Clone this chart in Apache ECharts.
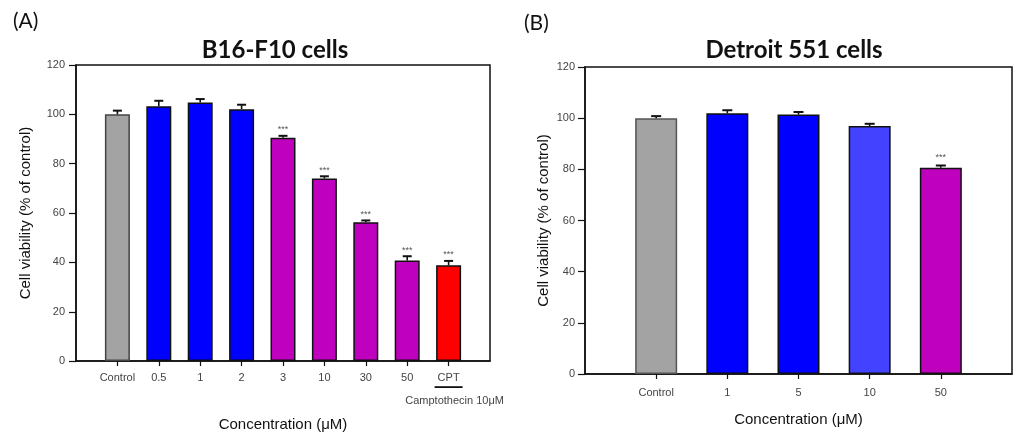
<!DOCTYPE html>
<html>
<head>
<meta charset="utf-8">
<script src="https://cdn.jsdelivr.net/npm/echarts@6/dist/echarts.min.js"></script>
<style>
html,body{margin:0;padding:0;background:#fff;}
#c{width:1024px;height:437px;}
</style>
</head>
<body>
<div id="c"></div>
<script>
// ---- data ----
const catsA = ['Control', '0.5', '1', '2', '3', '10', '30', '50', 'CPT'];
const valsA = [100.0, 103.3, 104.8, 102.1, 90.5, 74.0, 56.3, 40.8, 38.8];
const errsA = [1.5, 2.2, 1.4, 1.8, 0.8, 0.9, 0.7, 1.7, 1.8];
const sigA  = ['', '', '', '', '***', '***', '***', '***', '***'];

const catsB = ['Control', '1', '5', '10', '50'];
const valsB = [100.0, 101.9, 101.4, 96.9, 80.6];
const errsB = [0.8, 1.2, 1.0, 0.9, 0.9];
const sigB  = ['', '', '', '', '***'];

const yMin = 0, yMax = 120, yStep = 20;

// ---- styles (kept apart from data) ----
const GRAY = '#a3a3a3', BLUE = '#0000ff', LBLUE = '#4343ff', PURP = '#bf00bf', RED = '#ff0000';
const colorsA = [GRAY, BLUE, BLUE, BLUE, PURP, PURP, PURP, PURP, RED];
const colorsB = [GRAY, BLUE, BLUE, LBLUE, PURP];
const borderA = ['#444', '#111', '#111', '#111', '#111', '#111', '#111', '#111', '#111'];
const borderB = ['#555', '#111', '#111', '#111', '#111'];

const labelFont = 'Liberation Sans, Arial, sans-serif';

function padCats(c) { return [''].concat(c, ['']); }

function barData(vals, colors, borders) {
  return ['-'].concat(vals.map((v, i) => ({
    value: v,
    itemStyle: { color: colors[i], borderColor: borders[i], borderWidth: 1.5 }
  })), ['-']);
}

function errData(vals, errs) {
  return vals.map((v, i) => [i + 1, v, errs[i]]);
}

function errRender(sig, capHalf, starGap) {
  return function (params, api) {
    const x = api.value(0), v = api.value(1), e = api.value(2);
    const p0 = api.coord([x, v]);
    const p1 = api.coord([x, v + e]);
    const children = [
      { type: 'line', shape: { x1: p0[0], y1: p0[1], x2: p1[0], y2: p1[1] }, style: { stroke: '#111', lineWidth: 1.6 } },
      { type: 'line', shape: { x1: p1[0] - capHalf, y1: p1[1], x2: p1[0] + capHalf, y2: p1[1] }, style: { stroke: '#111', lineWidth: 2 } }
    ];
    const s = sig[params.dataIndex];
    if (s) {
      children.push({
        type: 'text', x: p1[0], y: p1[1] - starGap,
        style: { text: s, align: 'center', verticalAlign: 'middle', fill: '#555', font: '9px ' + labelFont }
      });
    }
    return { type: 'group', children: children };
  };
}

function yAxis(gridIndex, nameGap, labelMargin) {
  return {
    type: 'value', gridIndex: gridIndex, min: yMin, max: yMax, interval: yStep,
    name: 'Cell viability (% of control)', nameLocation: 'middle', nameGap: nameGap,
    nameTextStyle: { fontFamily: labelFont, fontSize: 15, color: '#111' },
    axisLine: { show: true, lineStyle: { color: '#111', width: 1.5 } },
    axisTick: { show: true, length: 7, lineStyle: { color: '#111', width: 1.2 } },
    axisLabel: { fontFamily: labelFont, fontSize: 11, color: '#444', margin: labelMargin },
    splitLine: { show: false }
  };
}

function xAxis(gridIndex, cats, nameGap, labelMargin, rich) {
  const ax = {
    type: 'category', gridIndex: gridIndex, data: padCats(cats), boundaryGap: false,
    name: 'Concentration (\u03bcM)', nameLocation: 'middle', nameGap: nameGap,
    nameTextStyle: { fontFamily: labelFont, fontSize: 15, color: '#111', verticalAlign: 'top' },
    axisLine: { show: true, lineStyle: { color: '#111', width: 1.5 } },
    axisTick: { show: true, length: 5, interval: function (i, v) { return v !== ''; }, lineStyle: { color: '#111', width: 1.2 } },
    axisLabel: { interval: 0, fontFamily: labelFont, fontSize: 11, color: '#444', margin: labelMargin, lineHeight: 13 },
    splitLine: { show: false }
  };
  if (rich) {
    ax.axisLabel.formatter = function (v) {
      if (v === 'CPT') return '{c|CPT}\n{u| }\n{s|Camptothecin 10\u03bcM}';
      return v;
    };
    ax.axisLabel.rich = {
      c: { fontFamily: labelFont, fontSize: 11, color: '#444', lineHeight: 13 },
      u: { width: 28, height: 1.8, backgroundColor: '#111', lineHeight: 6, fontSize: 2 },
      s: { fontFamily: labelFont, fontSize: 11, color: '#444', lineHeight: 22, padding: [0, 0, 0, 12] }
    };
  }
  return ax;
}

const chart = echarts.init(document.getElementById('c'), null, { renderer: 'canvas' });
chart.setOption({
  backgroundColor: '#fff',
  animation: false,
  title: [
    { text: '(A)', left: 8, top: 6, textStyle: { fontFamily: 'Lato, sans-serif', fontWeight: 'normal', fontSize: 21, color: '#111' } },
    { text: '(B)', left: 519, top: 8, textStyle: { fontFamily: 'Lato, sans-serif', fontWeight: 'normal', fontSize: 21, color: '#111' } },
    { text: 'B16-F10 cells', left: 270, textAlign: 'center', top: 33, textStyle: { fontFamily: 'Lato, sans-serif', fontWeight: 'bold', fontSize: 24, color: '#111' } },
    { text: 'Detroit 551 cells', left: 789, textAlign: 'center', top: 33, textStyle: { fontFamily: 'Lato, sans-serif', fontWeight: 'bold', fontSize: 24, color: '#111' } }
  ],
  grid: [
    { left: 76, top: 65, right: 1024 - 490, bottom: 437 - 363, show: true, borderColor: '#111', borderWidth: 1.5, backgroundColor: 'transparent' },
    { left: 585, top: 67, right: 1024 - 1012, bottom: 437 - 374, show: true, borderColor: '#111', borderWidth: 1.5, backgroundColor: 'transparent' }
  ],
  xAxis: [
    xAxis(0, catsA, 51, 10, true),
    xAxis(1, catsB, 38, 12, false)
  ],
  yAxis: [
    yAxis(0, 43, 11),
    yAxis(1, 34, 10)
  ],
  series: [
    { type: 'bar', xAxisIndex: 0, yAxisIndex: 0, barWidth: 25, data: barData(valsA, colorsA, borderA), z: 2 },
    { type: 'custom', xAxisIndex: 0, yAxisIndex: 0, renderItem: errRender(sigA, 4.5, 6), data: errData(valsA, errsA), encode: { x: 0, y: 1 }, z: 3 },
    { type: 'bar', xAxisIndex: 1, yAxisIndex: 1, barWidth: 42, data: barData(valsB, colorsB, borderB), z: 2 },
    { type: 'custom', xAxisIndex: 1, yAxisIndex: 1, renderItem: errRender(sigB, 5, 8), data: errData(valsB, errsB), encode: { x: 0, y: 1 }, z: 3 }
  ]
});
</script>
</body>
</html>
